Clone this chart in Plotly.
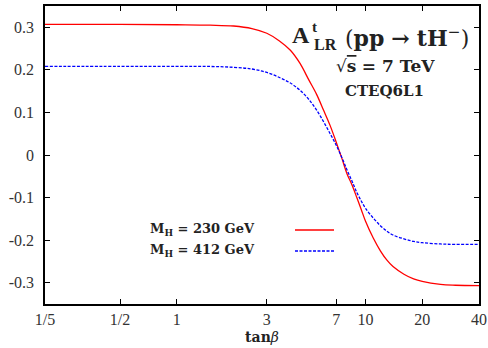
import plotly.graph_objects as go

tan_beta = [0.2, 0.5, 1, 1.5, 2, 2.5, 3, 3.5, 4, 4.5, 5, 5.5, 6, 6.5, 7, 7.5,
            8, 8.5, 9, 9.5, 10, 11, 12, 13, 14, 16, 18, 20, 25, 30, 40]
a_230 = [0.307, 0.307, 0.306, 0.305, 0.303, 0.297, 0.286, 0.268, 0.246, 0.215,
         0.177, 0.143, 0.105, 0.069, 0.030, -0.008, -0.045, -0.071, -0.100,
         -0.128, -0.155, -0.195, -0.225, -0.247, -0.262, -0.280, -0.291,
         -0.297, -0.304, -0.306, -0.307]
a_412 = [0.208, 0.208, 0.208, 0.208, 0.206, 0.202, 0.194, 0.182, 0.169, 0.152,
         0.131, 0.106, 0.078, 0.050, 0.023, -0.006, -0.036, -0.062, -0.088,
         -0.108, -0.125, -0.148, -0.166, -0.179, -0.188, -0.197, -0.203,
         -0.206, -0.209, -0.210, -0.210]

x_tickvals = [0.2, 0.5, 1, 3, 7, 10, 20, 40]
x_ticktext = ["1/5", "1/2", "1", "3", "7", "10", "20", "40"]
y_tickvals = [-0.3, -0.2, -0.1, 0, 0.1, 0.2, 0.3]
y_ticktext = ["-0.3", "-0.2", "-0.1", "0", "0.1", "0.2", "0.3"]

SERIF = "Liberation Serif"
WIDE = "DejaVu Serif"
TXT = "#222222"

fig = go.Figure()
fig.add_trace(go.Scatter(x=tan_beta, y=a_230, mode="lines", line_shape="spline",
                         line=dict(color="#ff0000", width=1.3),
                         name="M_H = 230 GeV", showlegend=False))
fig.add_trace(go.Scatter(x=tan_beta, y=a_412, mode="lines", line_shape="spline",
                         line=dict(color="#0000ff", width=1.3, dash="3px,1.5px"),
                         name="M_H = 412 GeV", showlegend=False))

axis_common = dict(showline=True, linecolor="black", linewidth=1.5, mirror="allticks",
                   ticks="inside", ticklen=5, tickcolor="black", tickwidth=1,
                   showgrid=False, zeroline=False, automargin=False,
                   tickfont=dict(family=SERIF, size=16, color="#333333"))

fig.update_xaxes(type="log", range=[-0.69897, 1.60206], tickmode="array",
                 tickvals=x_tickvals, ticktext=x_ticktext,
                 title=dict(text="<b>tan</b><i>β</i>", font=dict(family=WIDE, size=14, color=TXT),
                            standoff=5),
                 **axis_common)
fig.update_yaxes(range=[-0.35, 0.35], tickmode="array",
                 tickvals=y_tickvals, ticktext=y_ticktext, ticklabelstandoff=6,
                 **axis_common)

ann = []
# Title block
ann.append(dict(x=301, y=35, text="<b>A</b>", font=dict(family=SERIF, size=24, color=TXT)))
ann.append(dict(x=314, y=27, text="<b>t</b>", font=dict(family=SERIF, size=15, color=TXT)))
ann.append(dict(x=325, y=44, text="<b>LR</b>", font=dict(family=SERIF, size=16, color=TXT)))
ann.append(dict(x=407, y=37, text="(<b>pp</b> <b>→</b> <b>tH</b><sup>−</sup>)",
                font=dict(family=WIDE, size=22, color=TXT)))
ann.append(dict(x=385, y=66, text="√<span style='text-decoration:overline'><b>s</b></span> <b>= 7 TeV</b>",
                font=dict(family=WIDE, size=17, color=TXT)))
ann.append(dict(x=384, y=91, text="<b>CTEQ6L1</b>", font=dict(family=WIDE, size=15, color=TXT)))
# Legend labels
ann.append(dict(x=257, y=229, text="<b>M<sub>H</sub> = 230 GeV</b>", xanchor="right",
                font=dict(family=WIDE, size=13, color=TXT)))
ann.append(dict(x=257, y=250, text="<b>M<sub>H</sub> = 412 GeV</b>", xanchor="right",
                font=dict(family=WIDE, size=13, color=TXT)))

annotations = []
for a in ann:
    d = dict(xref="paper", yref="paper", showarrow=False, yanchor="middle")
    d.setdefault("xanchor", "center")
    d.update(a)
    # convert pixels to paper coords (plot area: x 45..479, y 6..304)
    d["x"] = (a["x"] - 45) / 434
    d["y"] = (304 - a["y"]) / 298
    annotations.append(d)

shapes = [
    dict(type="line", xref="paper", yref="paper",
         x0=(295 - 45) / 434, x1=(334 - 45) / 434,
         y0=(304 - 230) / 298, y1=(304 - 230) / 298,
         line=dict(color="#ff0000", width=1.3)),
    dict(type="line", xref="paper", yref="paper",
         x0=(295 - 45) / 434, x1=(334 - 45) / 434,
         y0=(304 - 251) / 298, y1=(304 - 251) / 298,
         line=dict(color="#0000ff", width=1.3, dash="3px,1.5px")),
]

fig.update_layout(width=488, height=348, margin=dict(l=45, r=9, t=6, b=44, autoexpand=False),
                  plot_bgcolor="white", paper_bgcolor="white",
                  annotations=annotations, shapes=shapes, showlegend=False)

fig.write_html("out.html", config={"displayModeBar": False},
               post_script="document.body.style.margin='0';document.body.style.overflow='hidden';")
